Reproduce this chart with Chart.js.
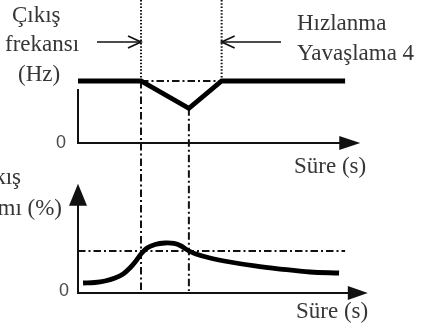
<!DOCTYPE html>
<html>
<head>
<meta charset="utf-8">
<script src="https://cdn.jsdelivr.net/npm/chart.js@4.4.1/dist/chart.umd.min.js"></script>
<style>
  html, body { margin: 0; padding: 0; background: #fff; overflow: hidden; }
  canvas { display: block; }
</style>
</head>
<body>
<canvas id="chart" width="422" height="326"></canvas>
<script>
// Time instants (s): acceleration start, frequency minimum, recovery
const eventTimes = [2.5, 4.4, 5.7];

// Output frequency during the load step (Hz)
const freqTime = [0, 2.5, 4.4, 5.7, 10.6];
const freqHz   = [50, 50, 28, 50, 50];

// Output current (% of rated)
const currTime = [0.2, 0.67, 1.07, 1.47, 1.79, 2.06, 2.3, 2.5, 2.74, 3.06, 3.45, 3.81, 4.09, 4.37, 4.68, 5.24, 6.03, 7.02, 8.02, 9.21, 10.36];
const currPct  = [23.8, 25, 28.6, 35.7, 45.2, 59.5, 76.2, 92.9, 107.1, 115.5, 119, 117.9, 111.9, 101.2, 92.9, 83.3, 73.8, 64.3, 57.1, 50, 47.6];

// Current limit level (%)
const currentLimit = [100];

// Axis extents in data units
const timeAxisEnd = [11.2, 11.5];   // top panel, bottom panel
const freqAxisTop = [43.5];
const currAxisTop = [260];

// Texts
const freqTitle = ['Çıkış', 'frekansı', '(Hz)'];
const currTitle = ['Çıkış', 'akımı (%)'];
const rampNote = ['Hızlanma', 'Yavaşlama 4'];
const timeTitle = 'Süre (s)';
const zeroTick = '0';

// Canvas frame: where each axis origin sits and how many pixels one unit spans
const W = 422, H = 326;
const frame = {
  x0: 78,  xPerUnit: 25.2,      // time
  f0: 143, fPerUnit: 62 / 50,   // frequency panel
  i0: 293, iPerUnit: 42 / 100   // current panel
};

const pts = (xs, ys) => xs.map((x, k) => ({ x, y: ys[k] }));

const SERIF = '"Liberation Serif", "Times New Roman", serif';
const SANS = '"Liberation Sans", Arial, sans-serif';

function line(ctx, x1, y1, x2, y2) {
  ctx.beginPath();
  ctx.moveTo(x1, y1);
  ctx.lineTo(x2, y2);
  ctx.stroke();
}

function solidHead(ctx, tx, ty, dir, len, half) {
  ctx.beginPath();
  if (dir === 'right') {
    ctx.moveTo(tx, ty); ctx.lineTo(tx - len, ty - half); ctx.lineTo(tx - len, ty + half);
  } else {
    ctx.moveTo(tx, ty); ctx.lineTo(tx - half, ty + len); ctx.lineTo(tx + half, ty + len);
  }
  ctx.closePath();
  ctx.fill();
}

function openArrow(ctx, x1, x2, y) {
  // shaft from x1 to tip x2, open head
  const d = x2 > x1 ? 1 : -1;
  ctx.lineWidth = 1.7;
  ctx.setLineDash([]);
  line(ctx, x1, y, x2, y);
  ctx.beginPath();
  ctx.moveTo(x2 - d * 13, y - 6);
  ctx.lineTo(x2, y);
  ctx.lineTo(x2 - d * 13, y + 6);
  ctx.stroke();
}

const diagramPlugin = {
  id: 'diagram',
  beforeDatasetsDraw(chart) {
    const { ctx } = chart;
    const sx = chart.scales.x, sf = chart.scales.yF, si = chart.scales.yI;
    const X = v => sx.getPixelForValue(v);
    const F = v => sf.getPixelForValue(v);
    const I = v => si.getPixelForValue(v);
    const [tA, tMin, tB] = eventTimes;
    const fRun = freqHz[0];

    ctx.save();
    ctx.strokeStyle = '#111';
    ctx.fillStyle = '#111';

    // dotted guides above the frequency line
    ctx.lineWidth = 2;
    ctx.setLineDash([1.5, 1.8]);
    line(ctx, X(tA), 0, X(tA), F(fRun));
    line(ctx, X(tB), 0, X(tB), F(fRun));

    // dash-dot guides
    ctx.lineWidth = 2;
    ctx.setLineDash([7.5, 3, 2, 3]);
    line(ctx, X(tA), F(fRun), X(tA), I(0) - 2);
    line(ctx, X(tMin), F(freqHz[2]), X(tMin), I(0) - 2);
    line(ctx, X(tA), F(fRun), X(tB), F(fRun));
    line(ctx, X(0), I(currentLimit[0]), X(freqTime[freqTime.length - 1]), I(currentLimit[0]));

    // axes
    ctx.setLineDash([]);
    ctx.lineWidth = 2;
    line(ctx, X(0), F(freqAxisTop[0]), X(0), F(0) + 1);
    line(ctx, X(0) - 1, F(0), X(timeAxisEnd[0]) - 18, F(0));
    solidHead(ctx, X(timeAxisEnd[0]), F(0), 'right', 21, 7);

    line(ctx, X(0), I(currAxisTop[0]) + 18, X(0), I(0) + 1);
    solidHead(ctx, X(0), I(currAxisTop[0]), 'up', 22, 9);
    line(ctx, X(0) - 1, I(0), X(timeAxisEnd[1]) - 18, I(0));
    solidHead(ctx, X(timeAxisEnd[1]), I(0), 'right', 20, 7);

    // pointer arrows to the ramp instants
    openArrow(ctx, 97, X(tA), 42);
    openArrow(ctx, 281, X(tB), 42);

    // texts
    ctx.fillStyle = '#363636';
    ctx.textBaseline = 'alphabetic';
    ctx.font = '23px ' + SERIF;
    ctx.textAlign = 'left';
    ctx.fillText(freqTitle[0], 12, 22);
    ctx.fillText(freqTitle[1], 5, 51);
    ctx.fillText(freqTitle[2], 18, 81);
    ctx.fillText(rampNote[0], 297, 30);
    ctx.fillText(rampNote[1], 297, 60);
    ctx.fillText(timeTitle, 294, 173);
    ctx.fillText(timeTitle, 296, 318);
    ctx.textAlign = 'right';
    ctx.fillText(currTitle[0], 21, 184);
    ctx.fillText(currTitle[1], 62, 215);

    ctx.font = '18px ' + SANS;
    ctx.fillStyle = '#4a4a4a';
    ctx.textAlign = 'center';
    ctx.fillText(zeroTick, 61, 148);
    ctx.fillText(zeroTick, 64, 296);
    ctx.restore();
  }
};

new Chart(document.getElementById('chart'), {
  type: 'line',
  data: {
    datasets: [
      {
        label: 'Çıkış frekansı',
        data: pts(freqTime, freqHz),
        xAxisID: 'x', yAxisID: 'yF',
        borderColor: '#000', borderWidth: 4.8,
        borderJoinStyle: 'miter', borderCapStyle: 'butt',
        pointRadius: 0, tension: 0, fill: false
      },
      {
        label: 'Çıkış akımı',
        data: pts(currTime, currPct),
        xAxisID: 'x', yAxisID: 'yI',
        borderColor: '#000', borderWidth: 4.8,
        borderCapStyle: 'butt',
        tension: 0.35,
        pointRadius: 0, fill: false
      }
    ]
  },
  options: {
    responsive: false,
    animation: false,
    devicePixelRatio: 1,
    layout: { padding: 0, autoPadding: false },
    events: [],
    plugins: { legend: { display: false }, tooltip: { enabled: false } },
    scales: {
      x: {
        type: 'linear', display: false,
        min: -frame.x0 / frame.xPerUnit,
        max: (W - frame.x0) / frame.xPerUnit
      },
      yF: {
        type: 'linear', display: false, position: 'left',
        min: -(H - frame.f0) / frame.fPerUnit,
        max: frame.f0 / frame.fPerUnit
      },
      yI: {
        type: 'linear', display: false, position: 'left',
        min: -(H - frame.i0) / frame.iPerUnit,
        max: frame.i0 / frame.iPerUnit
      }
    }
  },
  plugins: [diagramPlugin]
});
</script>
</body>
</html>
